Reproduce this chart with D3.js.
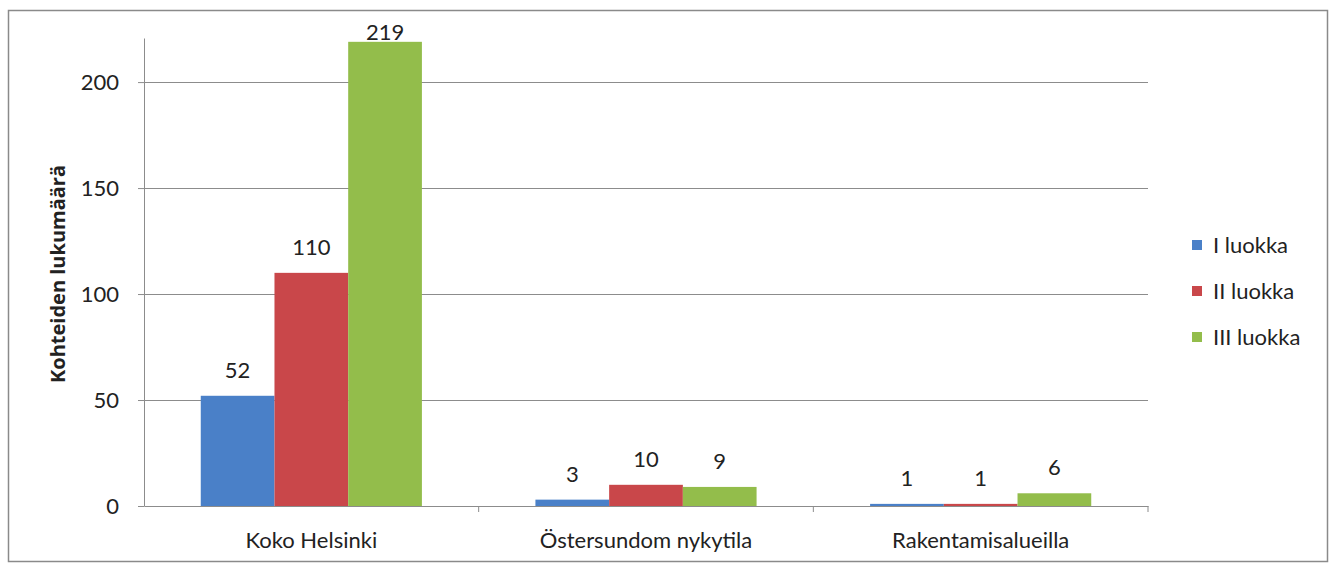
<!DOCTYPE html>
<html>
<head>
<meta charset="utf-8">
<script src="https://cdn.jsdelivr.net/npm/d3@7"></script>
<style>
  body { margin: 0; background: #fff; }
  text { font-family: Lato, "Open Sans", sans-serif; fill: #222; }
</style>
</head>
<body>
<div id="chart"></div>
<script>
// Chart data.
var categories = ["Koko Helsinki", "Östersundom nykytila", "Rakentamisalueilla"];
var seriesNames = ["I luokka", "II luokka", "III luokka"];
var luokka1 = [52, 3, 1];
var luokka2 = [110, 10, 1];
var luokka3 = [219, 9, 6];
var yTicks = [0, 50, 100, 150, 200];
var colors = ["#4a80c8", "#c9474a", "#93bd4b"];

var seriesValues = [luokka1, luokka2, luokka3];

// Layout parameters.
var svgWidth = 1335;
var svgHeight = 567;
var margin = { top: 38, right: 187, bottom: 61, left: 144 };
var width = svgWidth - margin.left - margin.right;
var height = svgHeight - margin.top - margin.bottom;

var svg = d3.select("#chart")
  .append("svg")
  .attr("width", svgWidth)
  .attr("height", svgHeight);

// Outer frame.
svg.append("rect")
  .attr("x", 8.5).attr("y", 10.5)
  .attr("width", 1319).attr("height", 551)
  .attr("fill", "#fff")
  .attr("stroke", "#8a8a8a")
  .attr("stroke-width", 1.5);

var chartGroup = svg.append("g")
  .attr("transform", `translate(${margin.left}, ${margin.top})`);

// Scales.
var x0 = d3.scaleBand()
  .domain(categories)
  .range([0, width]);

var x1 = d3.scaleBand()
  .domain(seriesNames)
  .range([0, x0.bandwidth()])
  .paddingOuter(0.77);

var yScale = d3.scaleLinear()
  .domain([0, 220.8])
  .range([height, 0]);

// Gridlines.
chartGroup.append("g")
  .selectAll("line")
  .data(yTicks.slice(1))
  .enter()
  .append("line")
  .attr("x1", 0)
  .attr("x2", width)
  .attr("y1", d => Math.round(yScale(d)) + 0.5)
  .attr("y2", d => Math.round(yScale(d)) + 0.5)
  .attr("stroke", "#8c8c8c")
  .attr("stroke-width", 1);

// Y axis.
var leftAxis = d3.axisLeft(yScale)
  .tickValues(yTicks)
  .tickSize(6)
  .tickPadding(19)
  .tickSizeOuter(0);

var yAxisG = chartGroup.append("g").call(leftAxis);
yAxisG.select(".domain").attr("stroke", "#8c8c8c");
yAxisG.selectAll(".tick line").attr("stroke", "#8c8c8c");
yAxisG.selectAll(".tick text")
  .style("font-family", "Lato, 'Open Sans', sans-serif")
  .style("font-size", "22px")
  .attr("fill", "#222");

// Bars.
var groups = chartGroup.selectAll(".group")
  .data(categories)
  .enter()
  .append("g")
  .attr("transform", d => `translate(${x0(d)}, 0)`);

groups.selectAll("rect")
  .data((d, i) => seriesNames.map((s, j) => ({ name: s, value: seriesValues[j][i], idx: j })))
  .enter()
  .append("rect")
  .attr("x", d => x1(d.name))
  .attr("y", d => yScale(d.value))
  .attr("width", x1.bandwidth())
  .attr("height", d => height - yScale(d.value))
  .attr("fill", d => colors[d.idx]);

// Value labels (kept inside the plot at the top, like Excel does).
groups.selectAll(".val")
  .data((d, i) => seriesNames.map((s, j) => ({ name: s, value: seriesValues[j][i] })))
  .enter()
  .append("text")
  .attr("x", d => x1(d.name) + x1.bandwidth() / 2)
  .attr("y", d => Math.max(yScale(d.value) - 18, 2))
  .attr("text-anchor", "middle")
  .attr("font-size", "22px")
  .text(d => d.value);

// X axis.
var bottomAxis = d3.axisBottom(x0)
  .tickSize(0)
  .tickPadding(26);

var xAxisG = chartGroup.append("g")
  .attr("transform", `translate(0, ${height})`)
  .call(bottomAxis);
xAxisG.select(".domain").attr("stroke", "#8c8c8c");
xAxisG.selectAll(".tick text")
  .style("font-family", "Lato, 'Open Sans', sans-serif")
  .style("font-size", "22px")
  .attr("fill", "#222");

// Category separator ticks.
chartGroup.append("g")
  .selectAll("line")
  .data(categories)
  .enter()
  .append("line")
  .attr("x1", d => x0(d) + x0.bandwidth())
  .attr("x2", d => x0(d) + x0.bandwidth())
  .attr("y1", height)
  .attr("y2", height + 6)
  .attr("stroke", "#8c8c8c");

// Y axis title.
chartGroup.append("text")
  .attr("transform", "rotate(-90)")
  .attr("x", 0 - 236)
  .attr("y", 0 - 79)
  .attr("text-anchor", "middle")
  .style("font-family", "'Open Sans', sans-serif")
  .attr("font-size", "20px")
  .attr("font-weight", "bold")
  .text("Kohteiden lukumäärä");

// Legend.
var legend = svg.append("g")
  .selectAll("g")
  .data(seriesNames)
  .enter()
  .append("g")
  .attr("transform", (d, i) => `translate(1192, ${245 + i * 46})`);

legend.append("rect")
  .attr("x", 0)
  .attr("y", -5)
  .attr("width", 10)
  .attr("height", 10)
  .attr("fill", (d, i) => colors[i]);

legend.append("text")
  .attr("x", 21)
  .attr("y", 0)
  .attr("dy", "0.35em")
  .attr("font-size", "22px")
  .text(d => d);
</script>
</body>
</html>
